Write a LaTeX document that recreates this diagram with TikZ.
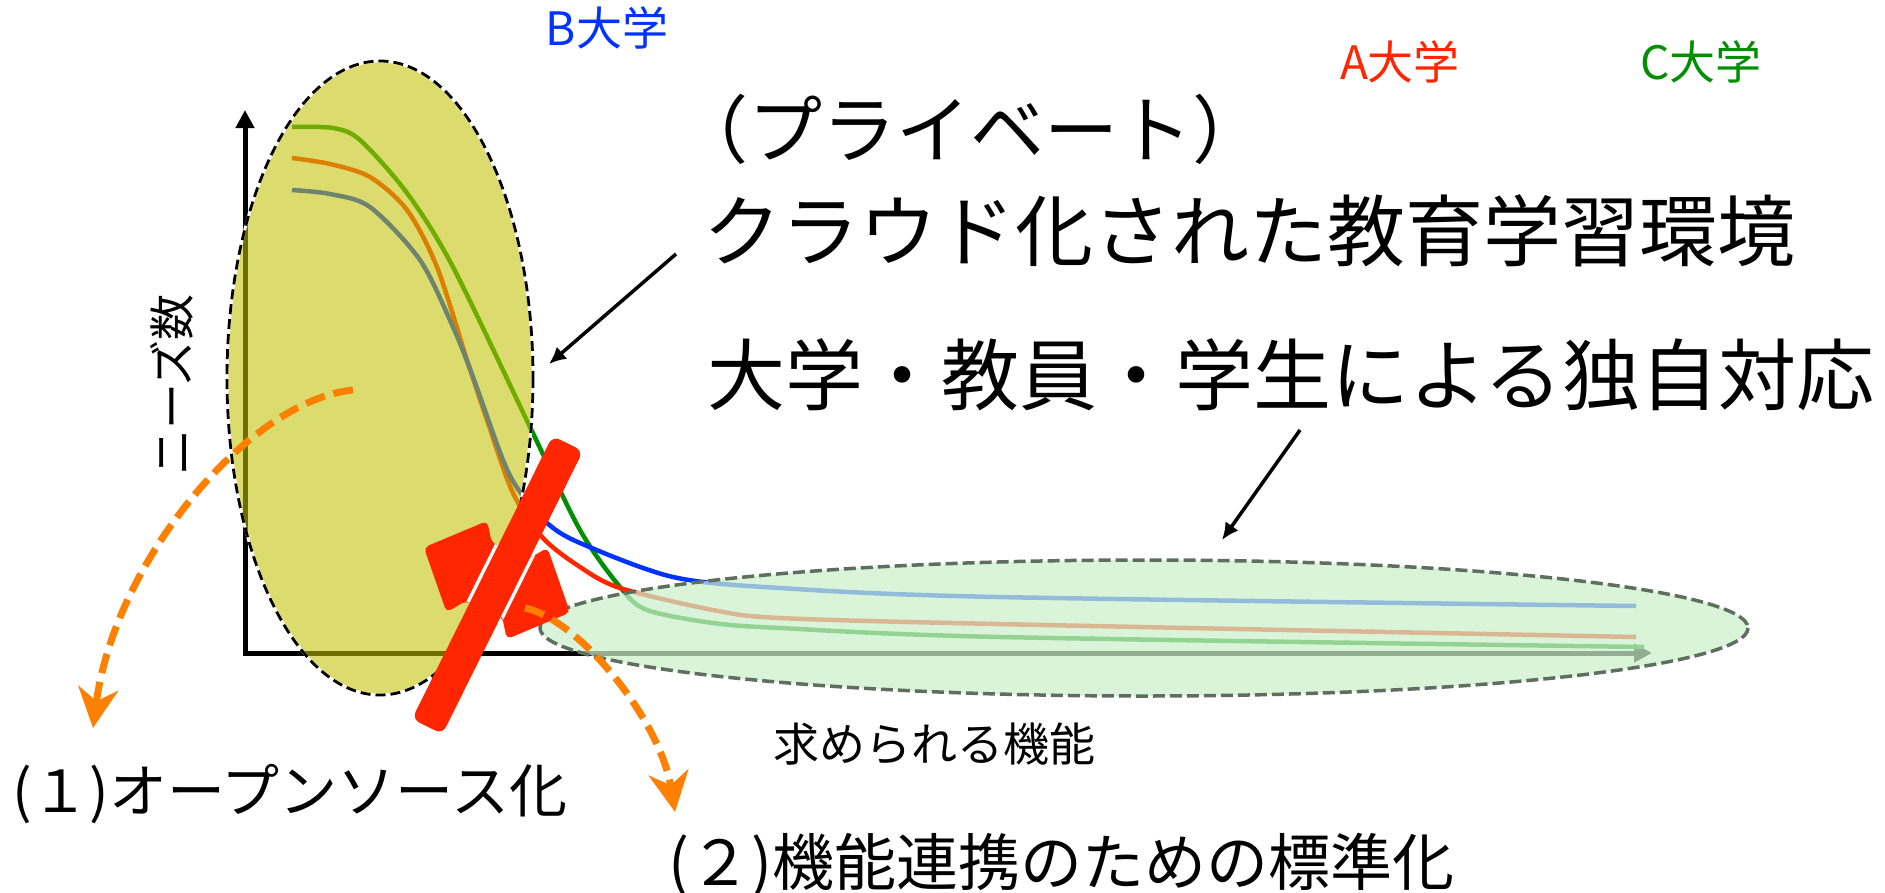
\documentclass[tikz,border=0pt]{standalone}
\usepackage{fontspec}
\setmainfont{Noto Sans CJK JP}
\usetikzlibrary{arrows.meta}

\definecolor{unib}{RGB}{0,51,255}
\definecolor{unia}{RGB}{255,38,0}
\definecolor{unic}{RGB}{0,143,0}
\definecolor{oliveyel}{RGB}{194,194,0}
\definecolor{paleleaf}{RGB}{205,240,205}
\definecolor{rimgray}{RGB}{95,110,95}
\definecolor{stopred}{RGB}{255,38,0}
\definecolor{tangerine}{RGB}{255,128,0}

\tikzset{
	bigtxt/.style={inner sep=0pt, font=\fontsize{#1}{#1}\selectfont},
	midtxt/.style={inner sep=0pt, font=\fontsize{#1}{#1}\selectfont},
	smalltxt/.style={inner sep=0pt, font=\fontsize{46}{48}\selectfont},
	needcurve/.style={line width=4.5pt},
	ptr/.style={line width=3.5pt, -{Latex[length=17pt,width=16pt]}},
	swing/.style={line width=7pt, color=tangerine, dash pattern=on 20pt off 9pt, -{Stealth[length=40pt,width=40pt,inset=13pt]}},
}

\begin{document}
\begin{tikzpicture}[x=1pt, y=-1pt]
			%%%%% START %%%%%
			\useasboundingbox (0,0) rectangle (1885,892);
			\fill[white] (0,0) rectangle (1885,892);
			
			% axes
			\draw[line width=5pt, {Triangle[length=18pt,width=18pt]}-{Triangle[length=18pt,width=18pt]}] (245,110) -- (245,653) -- (1652,653);
			
			% needs per university
			\draw[needcurve, unic] plot[smooth] coordinates {(292,127) (333,128) (360,140) (407,193) (453,267) (530,427) (580,530) (620,587) (647,610) (713,623) (780,628) (1000,637) (1644,647)};
			\draw[needcurve, unia] plot[smooth] coordinates {(292,158) (330,164) (370,177) (407,210) (437,267) (467,360) (487,420) (513,493) (543,538) (580,567) (620,588) (713,610) (780,618) (997,624) (1636,637)};
			\draw[needcurve, unib] plot[smooth] coordinates {(292,190) (330,194) (370,207) (420,260) (453,327) (473,377) (503,460) (520,492) (547,523) (580,543) (673,577) (780,588) (997,597) (1636,606)};
			
			% private cloud area
			\fill[oliveyel, fill opacity=0.57] (380,378) ellipse [x radius=153, y radius=317];
			\draw[white, line width=2.8pt] (380,378) ellipse [x radius=153, y radius=317];
			\draw[black, line width=2.8pt, dash pattern=on 10pt off 5pt] (380,378) ellipse [x radius=153, y radius=317];
			
			% long tail area
			\fill[paleleaf, fill opacity=0.72] (1144,628) ellipse [x radius=604, y radius=68];
			\draw[rimgray, line width=3.5pt, dash pattern=on 12pt off 5pt] (1144,628) ellipse [x radius=604, y radius=68];
			
			% labels
			\node[smalltxt, unib, anchor=base] (unibtxt) at (607,45) {B大学};
			\node[smalltxt, unia, anchor=base] (uniatxt) at (1400,79) {A大学};
			\node[smalltxt, unic, anchor=base] (unictxt) at (1701,79) {C大学};
			\node[smalltxt, rotate=90] (needtxt) at (172,385) {ニーズ数};
			\node[smalltxt, anchor=base] (functxt) at (934,761) {求められる機能};
			
			\node[bigtxt=74, anchor=base west] (private) at (674,157) {（プライベート）};
			\node[bigtxt=78, anchor=base west] (cloud) at (703,260) {クラウド化された教育学習環境};
			\node[bigtxt=78, anchor=base west] (own) at (707,404) {大学・教員・学生による独自対応};
			
			\node[midtxt=58, anchor=base west] (oss) at (12,812) {(１)オープンソース化};
			\node[midtxt=62, anchor=base west] (std) at (668,885) {(２)機能連携のための標準化};
			
			% pointers
			\coordinate (cloudtail) at (676,254);
			\coordinate (cloudtip) at (549,364);
			\coordinate (owntail) at (1300,430);
			\coordinate (owntip) at (1222,540);
			\draw[ptr] (cloudtail) -- (cloudtip);
			\draw[ptr] (owntail) -- (owntip);
			
			% no more two-way
			\fill[stopred, rounded corners=5pt, rotate around={-24:(497,580)}] (417,580) -- (464,530) -- (477,548) -- (517,548) -- (530,530) -- (577,580) -- (530,630) -- (517,612) -- (477,612) -- (464,630) -- cycle;
			\begin{scope}
				\clip[rotate around={-24:(497,580)}] (417,580) -- (464,530) -- (477,548) -- (517,548) -- (530,530) -- (577,580) -- (530,630) -- (517,612) -- (477,612) -- (464,630) -- cycle;
				\draw[white, line width=7pt, rounded corners=8pt, rotate around={63.6:(497.5,585)}] (339.5,568) rectangle (655.5,602);
			\end{scope}
			\fill[stopred, rounded corners=8pt, rotate around={63.6:(497.5,585)}] (339.5,568) rectangle (655.5,602);
			
			% ways out
			\coordinate (ossfrom) at (353,390);
			\coordinate (ossto) at (93,728);
			\coordinate (stdfrom) at (525,608);
			\coordinate (stdto) at (675,812);
			\draw[swing] (ossfrom) .. controls (250,400) and (115,560) .. (ossto);
			\draw[swing] (stdfrom) .. controls (580,620) and (660,720) .. (stdto);
			
			%%%%% END %%%%%
\end{tikzpicture}
\end{document}
